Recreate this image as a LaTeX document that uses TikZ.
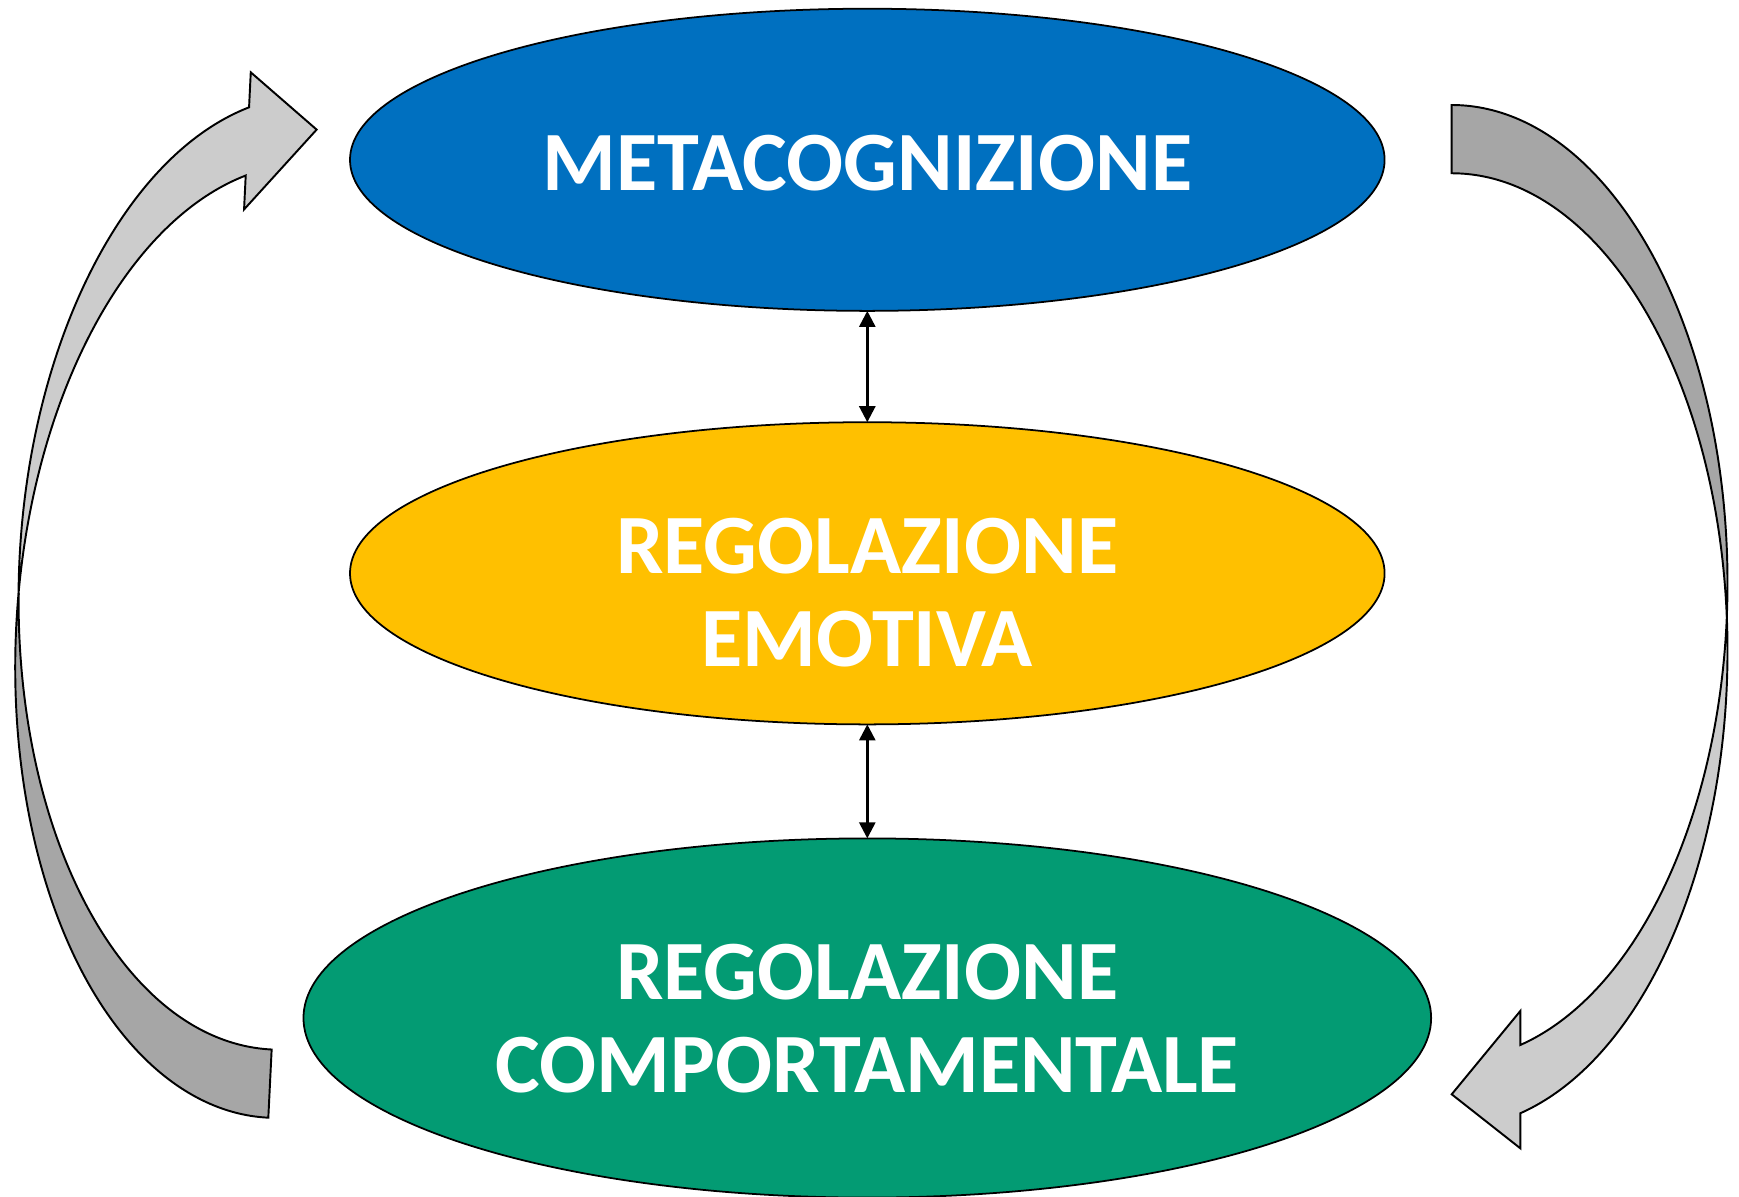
\documentclass[tikz,border=0pt]{standalone}
\usepackage{fontspec}
\setmainfont{Carlito}
\usetikzlibrary{shapes.geometric,arrows.meta}

\definecolor{metablue}{HTML}{0070C0}
\definecolor{emogold}{HTML}{FFC000}
\definecolor{compgreen}{HTML}{039B73}
\definecolor{frontgray}{HTML}{CCCCCC}
\definecolor{backgray}{HTML}{A6A6A6}

\tikzset{
  bubble/.style={ellipse, draw=black, line width=0.5pt, inner sep=0pt, outer sep=0pt},
  caption/.style={text=white, font=\fontsize{24}{26.5}\selectfont\bfseries, align=center},
  backface/.style={fill=backgray, draw=black, line width=0.55pt},
  frontface/.style={fill=frontgray, draw=black, line width=0.55pt},
}

% curved arrow: tail top left, head bottom left
\newcommand{\cyclearrow}{%
  \filldraw[backface] (0,-495)
     arc[start angle=270, end angle=364.1, x radius=275.8, y radius=477.5]
     arc[start angle=355.9, end angle=270, x radius=275.8, y radius=477.5] -- cycle;
  \filldraw[frontface] (275.09,16.65)
     arc[start angle=-4.1, end angle=75.6, x radius=275.8, y radius=477.5]
     -- (68.6,548.3) -- (0,494.3) -- (68.6,411) -- (68.6,445)
     arc[start angle=75.6, end angle=4.1, x radius=275.8, y radius=477.5] -- cycle;
}

\begin{document}
\begin{tikzpicture}[x=0.01cm,y=-0.01cm]
 \useasboundingbox (0,0) rectangle (1739,1197);
 % the three levels
 \node[bubble,fill=metablue,minimum width=10.34cm,minimum height=3.02cm] (meta) at (867.3,159.8) {};
 \node[bubble,fill=emogold,minimum width=10.34cm,minimum height=3.02cm] (emo) at (867.3,573.3) {};
 \node[bubble,fill=compgreen,minimum width=11.27cm,minimum height=3.59cm] (comp) at (867.3,1018) {};
 \node[caption] (metatxt) at (867.3,163) {METACOGNIZIONE};
 \node[caption] (emotxt) at (867.3,592.5) {REGOLAZIONE\\EMOTIVA};
 \node[caption] (comptxt) at (867.3,1018.7) {REGOLAZIONE\\COMPORTAMENTALE};
 % links
 \draw[<->,>={Triangle[length=0.16cm,width=0.16cm]},line width=0.75pt] (meta) -- (emo);
 \draw[<->,>={Triangle[length=0.16cm,width=0.16cm]},line width=0.75pt] (emo) -- (comp);
 % loop arrows
 \begin{scope}[shift={(1451.7,600)}]
  \cyclearrow
 \end{scope}
 \begin{scope}[shift={(292.5,623.3)},rotate=177.2]
  \cyclearrow
 \end{scope}
\end{tikzpicture}
\end{document}
